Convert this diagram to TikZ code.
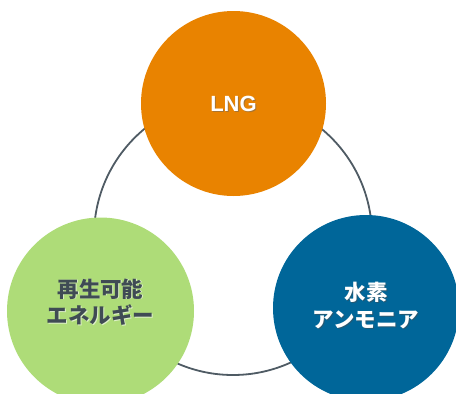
\documentclass[tikz,border=0pt]{standalone}
\usepackage{fontspec}
\setmainfont{Liberation Sans}
\newfontfamily\cjk{Noto Sans CJK JP}
\definecolor{ringc}{HTML}{4F5B64}
\definecolor{orangec}{HTML}{E98300}
\definecolor{greenc}{HTML}{AEDC78}
\definecolor{bluec}{HTML}{006699}
\definecolor{darktext}{HTML}{3F4B54}
\tikzset{
  ball/.style={circle, inner sep=0pt, minimum size=#1},
  lbl/.style={align=center, font=\cjk\bfseries\fontsize{21.5}{26.5}\selectfont, inner sep=0pt},
}
\begin{document}
\begin{tikzpicture}[x=1pt,y=-1pt]
\useasboundingbox (0,0) rectangle (456,394);
\clip (0,0) rectangle (456,394);
\node[ball=278pt, draw=ringc, line width=1.8pt] (ring) at (233,236) {};
\node[ball=185pt, fill=orangec] (lng) at (233.5,103.5) {};
\node[ball=187pt, fill=greenc] (renew) at (100.5,311) {};
\node[ball=186pt, fill=bluec] (h2) at (366,308) {};
% text with subtle shadows
\node[lbl, font=\bfseries\fontsize{22}{26}\selectfont, text=black!60, opacity=0.5] at ([shift={(1,1)}]lng.center) {LNG};
\node[lbl, font=\bfseries\fontsize{22}{26}\selectfont, text=white] (lngt) at (lng.center) {LNG};
\node[lbl, text=white, opacity=0.6] at ([shift={(0.8,0.8)}]renew.center) [yshift=9pt] {再生可能\\エネルギー};
\node[lbl, text=darktext] (renewt) at (renew.center) [yshift=9pt] {再生可能\\エネルギー};
\node[lbl, text=black!70, opacity=0.5] at ([shift={(1,1)}]h2.center) [yshift=2.5pt] {水素\\アンモニア};
\node[lbl, text=white] (h2t) at (h2.center) [yshift=2.5pt] {水素\\アンモニア};
\end{tikzpicture}
\end{document}
